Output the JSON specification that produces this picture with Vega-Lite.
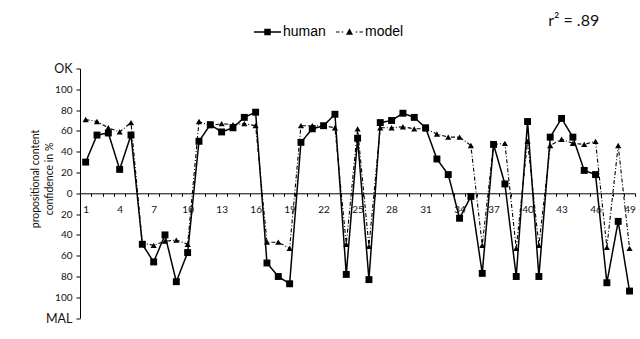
{
  "$schema": "https://vega.github.io/schema/vega-lite/v6.json",
  "width": 555.2,
  "height": 249.6,
  "autosize": "none",
  "padding": {"left": 80, "top": 68.5, "right": 4.8, "bottom": 20.9},
  "background": "white",
  "config": {"view": {"stroke": null}},
  "title": {"text": "r² = .89", "anchor": "end", "frame": "group", "dx": -36, "offset": -11, "font": "Lato", "fontSize": 16, "fontWeight": "normal", "color": "#111"},
  "data": {"values": [
    {"series": "human", "item": 1, "conf": 30}, {"series": "human", "item": 2, "conf": 56}, {"series": "human", "item": 3, "conf": 58}, {"series": "human", "item": 4, "conf": 23}, {"series": "human", "item": 5, "conf": 56},
    {"series": "human", "item": 6, "conf": -49}, {"series": "human", "item": 7, "conf": -66}, {"series": "human", "item": 8, "conf": -40}, {"series": "human", "item": 9, "conf": -85}, {"series": "human", "item": 10, "conf": -57},
    {"series": "human", "item": 11, "conf": 50}, {"series": "human", "item": 12, "conf": 66}, {"series": "human", "item": 13, "conf": 59}, {"series": "human", "item": 14, "conf": 63}, {"series": "human", "item": 15, "conf": 73},
    {"series": "human", "item": 16, "conf": 78}, {"series": "human", "item": 17, "conf": -67}, {"series": "human", "item": 18, "conf": -80}, {"series": "human", "item": 19, "conf": -87}, {"series": "human", "item": 20, "conf": 49},
    {"series": "human", "item": 21, "conf": 62}, {"series": "human", "item": 22, "conf": 65}, {"series": "human", "item": 23, "conf": 76}, {"series": "human", "item": 24, "conf": -78}, {"series": "human", "item": 25, "conf": 53},
    {"series": "human", "item": 26, "conf": -83}, {"series": "human", "item": 27, "conf": 68}, {"series": "human", "item": 28, "conf": 70}, {"series": "human", "item": 29, "conf": 77}, {"series": "human", "item": 30, "conf": 73},
    {"series": "human", "item": 31, "conf": 63}, {"series": "human", "item": 32, "conf": 33}, {"series": "human", "item": 33, "conf": 18}, {"series": "human", "item": 34, "conf": -24}, {"series": "human", "item": 35, "conf": -3},
    {"series": "human", "item": 36, "conf": -77}, {"series": "human", "item": 37, "conf": 47}, {"series": "human", "item": 38, "conf": 9}, {"series": "human", "item": 39, "conf": -80}, {"series": "human", "item": 40, "conf": 69},
    {"series": "human", "item": 41, "conf": -80}, {"series": "human", "item": 42, "conf": 54}, {"series": "human", "item": 43, "conf": 72}, {"series": "human", "item": 44, "conf": 54}, {"series": "human", "item": 45, "conf": 22},
    {"series": "human", "item": 46, "conf": 18}, {"series": "human", "item": 47, "conf": -86}, {"series": "human", "item": 48, "conf": -27}, {"series": "human", "item": 49, "conf": -94},
    {"series": "model", "item": 1, "conf": 71}, {"series": "model", "item": 2, "conf": 69}, {"series": "model", "item": 3, "conf": 63}, {"series": "model", "item": 4, "conf": 59}, {"series": "model", "item": 5, "conf": 68},
    {"series": "model", "item": 6, "conf": -48}, {"series": "model", "item": 7, "conf": -50}, {"series": "model", "item": 8, "conf": -46}, {"series": "model", "item": 9, "conf": -45}, {"series": "model", "item": 10, "conf": -49},
    {"series": "model", "item": 11, "conf": 69}, {"series": "model", "item": 12, "conf": 65}, {"series": "model", "item": 13, "conf": 67}, {"series": "model", "item": 14, "conf": 66}, {"series": "model", "item": 15, "conf": 67},
    {"series": "model", "item": 16, "conf": 65}, {"series": "model", "item": 17, "conf": -47}, {"series": "model", "item": 18, "conf": -47}, {"series": "model", "item": 19, "conf": -53}, {"series": "model", "item": 20, "conf": 65},
    {"series": "model", "item": 21, "conf": 65}, {"series": "model", "item": 22, "conf": 65}, {"series": "model", "item": 23, "conf": 63}, {"series": "model", "item": 24, "conf": -49}, {"series": "model", "item": 25, "conf": 62},
    {"series": "model", "item": 26, "conf": -51}, {"series": "model", "item": 27, "conf": 63}, {"series": "model", "item": 28, "conf": 63}, {"series": "model", "item": 29, "conf": 64}, {"series": "model", "item": 30, "conf": 62},
    {"series": "model", "item": 31, "conf": 62}, {"series": "model", "item": 32, "conf": 57}, {"series": "model", "item": 33, "conf": 54}, {"series": "model", "item": 34, "conf": 54}, {"series": "model", "item": 35, "conf": 46},
    {"series": "model", "item": 36, "conf": -50}, {"series": "model", "item": 37, "conf": 47}, {"series": "model", "item": 38, "conf": 48}, {"series": "model", "item": 39, "conf": -53}, {"series": "model", "item": 40, "conf": 50},
    {"series": "model", "item": 41, "conf": -50}, {"series": "model", "item": 42, "conf": 46}, {"series": "model", "item": 43, "conf": 52}, {"series": "model", "item": 44, "conf": 48}, {"series": "model", "item": 45, "conf": 47},
    {"series": "model", "item": 46, "conf": 50}, {"series": "model", "item": 47, "conf": -52}, {"series": "model", "item": 48, "conf": 46}, {"series": "model", "item": 49, "conf": -53}
  ]},
  "encoding": {
    "x": {
      "field": "item", "type": "quantitative",
      "scale": {"domain": [0.5, 49.5], "nice": false, "zero": false},
      "axis": {
        "title": null, "offset": -124.8, "grid": false,
        "values": [0.5,1,1.5,2.5,3.5,4,4.5,5.5,6.5,7,7.5,8.5,9.5,10,10.5,11.5,12.5,13,13.5,14.5,15.5,16,16.5,17.5,18.5,19,19.5,20.5,21.5,22,22.5,23.5,24.5,25,25.5,26.5,27.5,28,28.5,29.5,30.5,31,31.5,32.5,33.5,34,34.5,35.5,36.5,37,37.5,38.5,39.5,40,40.5,41.5,42.5,43,43.5,44.5,45.5,46,46.5,47.5,48.5,49,49.5],
        "labelExpr": "datum.value % 1 == 0 ? datum.label : ''",
        "labelOverlap": false, "labelFlush": false,
        "tickOpacity": {"condition": {"test": "datum.value % 1 == 0", "value": 0}, "value": 1},
        "tickSize": 3, "tickColor": "#000", "domainColor": "#000", "domainWidth": 1,
        "labelPadding": 8, "labelFont": "Lato", "labelFontSize": 10, "labelColor": "#111"
      }
    },
    "y": {
      "field": "conf", "type": "quantitative",
      "scale": {"domain": [-120, 120], "nice": false},
      "axis": {
        "title": ["propositional content", "confidence in %"],
        "titleFont": "Lato", "titleFontSize": 10.5, "titleFontWeight": "normal", "titleColor": "#111",
        "titleAngle": -90, "titleAlign": "center", "titleBaseline": "bottom", "titleLineHeight": 14,
        "titleX": -40, "titleY": 110,
        "grid": false,
        "values": [-120,-100,-80,-60,-40,-20,0,20,40,60,80,100,120],
        "labelExpr": "datum.value == 120 ? 'OK' : datum.value == -120 ? 'MAL' : format(abs(datum.value), 'd')",
        "labelFontSize": {"condition": {"test": "abs(datum.value) == 120", "value": 12.5}, "value": 10},
        "labelFont": "Lato", "labelColor": "#111", "labelPadding": 4, "labelOverlap": false, "labelFlush": false,
        "tickSize": 4, "tickColor": "#000", "domainColor": "#000", "domainWidth": 1
      }
    }
  },
  "resolve": {"scale": {"shape": "independent"}, "legend": {"shape": "independent"}},
  "layer": [
    {
      "mark": {"type": "line", "color": "#000"},
      "encoding": {
        "detail": {"field": "series"},
        "strokeDash": {
          "field": "series", "type": "nominal",
          "scale": {"domain": ["human", "model"], "range": [[1, 0], [4, 2, 1, 2]]},
          "legend": null
        },
        "strokeWidth": {
          "field": "series", "type": "nominal",
          "scale": {"domain": ["human", "model"], "range": [1.5, 1.1]},
          "legend": null
        }
      }
    },
    {
      "mark": {"type": "point", "filled": true, "opacity": 1, "color": "#000"},
      "encoding": {
        "shape": {
          "field": "series", "type": "nominal",
          "scale": {"domain": ["human", "model"], "range": ["square", "triangle-up"]},
          "legend": null
        },
        "size": {
          "field": "series", "type": "nominal",
          "scale": {"domain": ["human", "model"], "range": [48, 38]},
          "legend": null
        }
      }
    },
    {
      "mark": {"type": "point", "filled": true, "size": 0, "color": "#000"},
      "encoding": {
        "shape": {
          "field": "series", "type": "nominal",
          "scale": {"domain": ["human", "model"], "range": [
            "M-1,-0.055L1,-0.055L1,0.055L-1,0.055ZM-0.24,-0.24L0.24,-0.24L0.24,0.24L-0.24,0.24Z",
            "M-1,-0.04L-0.74,-0.04L-0.74,0.04L-1,0.04ZM-0.58,-0.04L-0.46,-0.04L-0.46,0.04L-0.58,0.04ZM0,-0.27L0.26,0.2L-0.26,0.2ZM0.46,-0.04L0.58,-0.04L0.58,0.04L0.46,0.04ZM0.74,-0.04L1,-0.04L1,0.04L0.74,0.04Z"
          ]},
          "legend": {
            "title": null, "orient": "none", "direction": "horizontal",
            "legendX": 174, "legendY": -50.3, "padding": 0,
            "symbolSize": 729, "symbolFillColor": "#000", "symbolOpacity": 1, "symbolStrokeWidth": 0,
            "labelFont": "Liberation Sans", "labelFontSize": 14, "labelColor": "#000", "labelOffset": 2,
            "columnPadding": 10
          }
        }
      }
    }
  ]
}
